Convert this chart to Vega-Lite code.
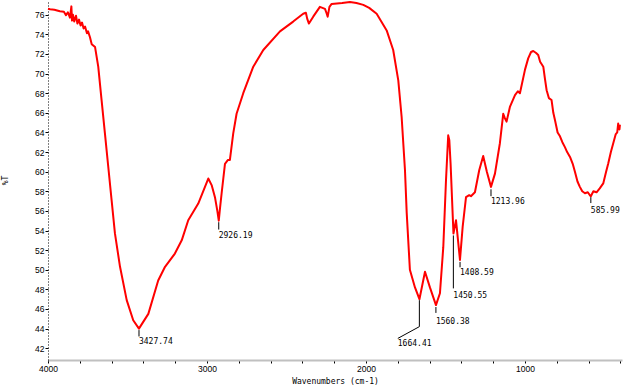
{
  "$schema": "https://vega.github.io/schema/vega-lite/v6.json",
  "width": 574,
  "height": 360,
  "autosize": "none",
  "padding": {"left": 48, "top": 0, "right": 7, "bottom": 28},
  "background": "white",
  "config": {
    "view": {"stroke": null},
    "axis": {"labelOverlap": false, "labelFlush": false, "grid": false, "labelColor": "black", "tickColor": "black", "titleColor": "black", "titleFontWeight": "normal"}
  },
  "datasets": {
    "spectrum": [
      {"wn": 4000, "T": 76.6}, {"wn": 3987, "T": 76.55}, {"wn": 3960, "T": 76.5}, {"wn": 3925, "T": 76.35},
      {"wn": 3900, "T": 76.3}, {"wn": 3887, "T": 75.95}, {"wn": 3875, "T": 76.25}, {"wn": 3862, "T": 75.7},
      {"wn": 3853, "T": 76.85}, {"wn": 3849, "T": 75.4}, {"wn": 3843, "T": 76.0}, {"wn": 3835, "T": 75.3},
      {"wn": 3824, "T": 75.9}, {"wn": 3815, "T": 75.1}, {"wn": 3805, "T": 75.5}, {"wn": 3795, "T": 74.9},
      {"wn": 3786, "T": 75.2}, {"wn": 3776, "T": 74.6}, {"wn": 3767, "T": 74.8}, {"wn": 3755, "T": 74.1},
      {"wn": 3748, "T": 74.3}, {"wn": 3736, "T": 73.7}, {"wn": 3725, "T": 73.0}, {"wn": 3704, "T": 72.7},
      {"wn": 3684, "T": 70.7}, {"wn": 3663, "T": 67.3}, {"wn": 3642, "T": 63.9}, {"wn": 3621, "T": 60.5},
      {"wn": 3600, "T": 57.1}, {"wn": 3579, "T": 53.7}, {"wn": 3547, "T": 50.3}, {"wn": 3505, "T": 46.9},
      {"wn": 3464, "T": 44.85}, {"wn": 3428, "T": 44.0}, {"wn": 3369, "T": 45.5}, {"wn": 3307, "T": 48.9},
      {"wn": 3264, "T": 50.3}, {"wn": 3202, "T": 51.65}, {"wn": 3159, "T": 53.0}, {"wn": 3118, "T": 55.05},
      {"wn": 3055, "T": 56.75}, {"wn": 2992, "T": 59.3}, {"wn": 2970, "T": 58.6}, {"wn": 2950, "T": 57.4},
      {"wn": 2935, "T": 56.0}, {"wn": 2926, "T": 55.0}, {"wn": 2918, "T": 56.3}, {"wn": 2908, "T": 57.8},
      {"wn": 2887, "T": 60.8}, {"wn": 2868, "T": 61.2}, {"wn": 2856, "T": 61.2}, {"wn": 2835, "T": 63.9},
      {"wn": 2814, "T": 65.9}, {"wn": 2772, "T": 68.0}, {"wn": 2709, "T": 70.7}, {"wn": 2646, "T": 72.4},
      {"wn": 2541, "T": 74.3}, {"wn": 2458, "T": 75.3}, {"wn": 2395, "T": 76.1}, {"wn": 2378, "T": 76.2},
      {"wn": 2370, "T": 75.6}, {"wn": 2359, "T": 75.1}, {"wn": 2332, "T": 75.8}, {"wn": 2290, "T": 76.8},
      {"wn": 2258, "T": 76.6}, {"wn": 2249, "T": 76.2}, {"wn": 2241, "T": 75.8}, {"wn": 2230, "T": 76.8},
      {"wn": 2216, "T": 77.1}, {"wn": 2150, "T": 77.2}, {"wn": 2101, "T": 77.3}, {"wn": 2060, "T": 77.2},
      {"wn": 2017, "T": 77.0}, {"wn": 1980, "T": 76.7}, {"wn": 1933, "T": 76.1}, {"wn": 1870, "T": 74.4},
      {"wn": 1829, "T": 72.4}, {"wn": 1797, "T": 69.3}, {"wn": 1776, "T": 65.6}, {"wn": 1755, "T": 60.2},
      {"wn": 1744, "T": 55.8}, {"wn": 1724, "T": 50.0}, {"wn": 1692, "T": 48.2}, {"wn": 1664, "T": 47.0},
      {"wn": 1629, "T": 49.8}, {"wn": 1598, "T": 48.2}, {"wn": 1560, "T": 46.4}, {"wn": 1535, "T": 47.6},
      {"wn": 1514, "T": 52.3}, {"wn": 1497, "T": 59.1}, {"wn": 1483, "T": 63.7}, {"wn": 1476, "T": 63.2},
      {"wn": 1468, "T": 60.8}, {"wn": 1450, "T": 53.7}, {"wn": 1434, "T": 55.05}, {"wn": 1409, "T": 51.0},
      {"wn": 1392, "T": 54.4}, {"wn": 1371, "T": 57.4}, {"wn": 1351, "T": 57.6}, {"wn": 1340, "T": 57.5},
      {"wn": 1315, "T": 57.9}, {"wn": 1288, "T": 60.15}, {"wn": 1263, "T": 61.6}, {"wn": 1240, "T": 60.0},
      {"wn": 1214, "T": 58.45}, {"wn": 1189, "T": 59.8}, {"wn": 1158, "T": 62.9}, {"wn": 1137, "T": 65.9},
      {"wn": 1128, "T": 65.5}, {"wn": 1116, "T": 65.1}, {"wn": 1095, "T": 66.6}, {"wn": 1063, "T": 67.8},
      {"wn": 1045, "T": 68.2}, {"wn": 1032, "T": 68.0}, {"wn": 1000, "T": 70.4}, {"wn": 980, "T": 71.55},
      {"wn": 962, "T": 72.2}, {"wn": 948, "T": 72.3}, {"wn": 930, "T": 72.1}, {"wn": 917, "T": 71.9},
      {"wn": 905, "T": 71.2}, {"wn": 885, "T": 70.7}, {"wn": 875, "T": 69.5}, {"wn": 864, "T": 68.3},
      {"wn": 850, "T": 67.5}, {"wn": 833, "T": 67.3}, {"wn": 822, "T": 66.0}, {"wn": 812, "T": 65.3},
      {"wn": 795, "T": 64.0}, {"wn": 780, "T": 63.6}, {"wn": 765, "T": 63.0}, {"wn": 749, "T": 62.5},
      {"wn": 735, "T": 62.0}, {"wn": 717, "T": 61.5}, {"wn": 700, "T": 60.8}, {"wn": 686, "T": 60.0},
      {"wn": 670, "T": 59.0}, {"wn": 655, "T": 58.45}, {"wn": 640, "T": 58.0}, {"wn": 623, "T": 57.8},
      {"wn": 605, "T": 57.9}, {"wn": 592, "T": 57.6}, {"wn": 586, "T": 57.5}, {"wn": 570, "T": 58.0},
      {"wn": 550, "T": 57.9}, {"wn": 530, "T": 58.3}, {"wn": 508, "T": 58.8}, {"wn": 490, "T": 60.0},
      {"wn": 477, "T": 60.8}, {"wn": 460, "T": 62.0}, {"wn": 445, "T": 62.9}, {"wn": 430, "T": 63.8},
      {"wn": 420, "T": 64.0}, {"wn": 414, "T": 64.9}, {"wn": 406, "T": 64.3}, {"wn": 403, "T": 64.8}
    ],
    "peaks": [
      {"label": "3427.74", "wn": 3427.74, "top": 43.85, "bottom": 43.2, "tx": 3427.74, "ty": 42.65},
      {"label": "2926.19", "wn": 2926.19, "top": 54.85, "bottom": 54.1, "tx": 2926.19, "ty": 53.4},
      {"label": "1664.41", "wn": 1664.41, "top": 46.9, "bottom": 44.2, "tx": 1800, "ty": 42.4},
      {"label": "1560.38", "wn": 1560.38, "top": 46.2, "bottom": 45.6, "tx": 1560.38, "ty": 44.64},
      {"label": "1450.55", "wn": 1450.55, "top": 53.5, "bottom": 48.1, "tx": 1450.55, "ty": 47.3},
      {"label": "1408.59", "wn": 1408.59, "top": 50.8, "bottom": 50.25, "tx": 1408.59, "ty": 49.64},
      {"label": "1213.96", "wn": 1213.96, "top": 58.2, "bottom": 57.5, "tx": 1213.96, "ty": 56.9},
      {"label": "585.99", "wn": 585.99, "top": 57.4, "bottom": 56.8, "tx": 585.99, "ty": 55.97}
    ],
    "leader": [
      {"x1": 1664.41, "y1": 44.2, "x2": 1800, "y2": 43.0}
    ]
  },
  "layer": [
    {
      "data": {"name": "spectrum"},
      "mark": {"type": "line", "color": "#ff0000", "strokeWidth": 2, "strokeJoin": "round"},
      "encoding": {
        "x": {
          "field": "wn", "type": "quantitative",
          "scale": {"domain": [4000, 390], "nice": false, "zero": false},
          "axis": {"title": "Wavenumbers (cm-1)", "values": [4000, 3800, 3600, 3400, 3200, 3000, 2800, 2600, 2400, 2200, 2000, 1800, 1600, 1400, 1200, 1000, 800, 600, 400], "format": "d", "labelExpr": "datum.value % 1000 == 0 ? datum.label : ''", "domainColor": "#c0c0c0", "domainWidth": 2, "tickSize": 3, "labelFont": "Liberation Sans", "labelFontSize": 8.5, "labelPadding": 1, "labelOverlap": false, "labelFlush": false, "titleFont": "DejaVu Sans Mono", "titleFontSize": 8, "titleY": 17}
        },
        "y": {
          "field": "T", "type": "quantitative",
          "scale": {"domain": [40.8, 77.5], "nice": false, "zero": false},
          "axis": {"title": "%T", "values": [42, 44, 46, 48, 50, 52, 54, 56, 58, 60, 62, 64, 66, 68, 70, 72, 74, 76], "domainColor": "black", "domainDash": [1, 2], "domainWidth": 1, "tickSize": 3, "labelFont": "Liberation Sans", "labelFontSize": 8.5, "labelPadding": 1, "labelOverlap": false, "labelFlush": false, "titleFont": "DejaVu Sans Mono", "titleFontSize": 8, "titleX": -39, "titleY": 180, "titleAngle": -90}
        }
      }
    },
    {
      "mark": {"type": "rule", "color": "#d4d4d4", "strokeWidth": 1},
      "encoding": {
        "x": {"datum": 390, "type": "quantitative",
          "axis": {"title": "Wavenumbers (cm-1)", "values": [4000, 3800, 3600, 3400, 3200, 3000, 2800, 2600, 2400, 2200, 2000, 1800, 1600, 1400, 1200, 1000, 800, 600, 400], "format": "d", "labelExpr": "datum.value % 1000 == 0 ? datum.label : ''", "domainColor": "#c0c0c0", "domainWidth": 2, "tickSize": 3, "labelFont": "Liberation Sans", "labelFontSize": 8.5, "labelPadding": 1, "labelOverlap": false, "labelFlush": false, "titleFont": "DejaVu Sans Mono", "titleFontSize": 8, "titleY": 17}
        }
      }
    },
    {
      "data": {"name": "peaks"},
      "mark": {"type": "rule", "color": "black", "strokeWidth": 1},
      "encoding": {
        "x": {"field": "wn", "type": "quantitative",
          "axis": {"title": "Wavenumbers (cm-1)", "values": [4000, 3800, 3600, 3400, 3200, 3000, 2800, 2600, 2400, 2200, 2000, 1800, 1600, 1400, 1200, 1000, 800, 600, 400], "format": "d", "labelExpr": "datum.value % 1000 == 0 ? datum.label : ''", "domainColor": "#c0c0c0", "domainWidth": 2, "tickSize": 3, "labelFont": "Liberation Sans", "labelFontSize": 8.5, "labelPadding": 1, "labelOverlap": false, "labelFlush": false, "titleFont": "DejaVu Sans Mono", "titleFontSize": 8, "titleY": 17}
        },
        "y": {"field": "top", "type": "quantitative",
          "axis": {"title": "%T", "values": [42, 44, 46, 48, 50, 52, 54, 56, 58, 60, 62, 64, 66, 68, 70, 72, 74, 76], "domainColor": "black", "domainDash": [1, 2], "domainWidth": 1, "tickSize": 3, "labelFont": "Liberation Sans", "labelFontSize": 8.5, "labelPadding": 1, "labelOverlap": false, "labelFlush": false, "titleFont": "DejaVu Sans Mono", "titleFontSize": 8, "titleX": -39, "titleY": 180, "titleAngle": -90}
        },
        "y2": {"field": "bottom"}
      }
    },
    {
      "data": {"name": "leader"},
      "mark": {"type": "rule", "color": "black", "strokeWidth": 1},
      "encoding": {
        "x": {"field": "x1", "type": "quantitative",
          "axis": {"title": "Wavenumbers (cm-1)", "values": [4000, 3800, 3600, 3400, 3200, 3000, 2800, 2600, 2400, 2200, 2000, 1800, 1600, 1400, 1200, 1000, 800, 600, 400], "format": "d", "labelExpr": "datum.value % 1000 == 0 ? datum.label : ''", "domainColor": "#c0c0c0", "domainWidth": 2, "tickSize": 3, "labelFont": "Liberation Sans", "labelFontSize": 8.5, "labelPadding": 1, "labelOverlap": false, "labelFlush": false, "titleFont": "DejaVu Sans Mono", "titleFontSize": 8, "titleY": 17}
        },
        "x2": {"field": "x2"},
        "y": {"field": "y1", "type": "quantitative",
          "axis": {"title": "%T", "values": [42, 44, 46, 48, 50, 52, 54, 56, 58, 60, 62, 64, 66, 68, 70, 72, 74, 76], "domainColor": "black", "domainDash": [1, 2], "domainWidth": 1, "tickSize": 3, "labelFont": "Liberation Sans", "labelFontSize": 8.5, "labelPadding": 1, "labelOverlap": false, "labelFlush": false, "titleFont": "DejaVu Sans Mono", "titleFontSize": 8, "titleX": -39, "titleY": 180, "titleAngle": -90}
        },
        "y2": {"field": "y2"}
      }
    },
    {
      "data": {"name": "peaks"},
      "mark": {"type": "text", "align": "left", "baseline": "middle", "font": "DejaVu Sans Mono", "fontSize": 8, "color": "black"},
      "encoding": {
        "x": {"field": "tx", "type": "quantitative",
          "axis": {"title": "Wavenumbers (cm-1)", "values": [4000, 3800, 3600, 3400, 3200, 3000, 2800, 2600, 2400, 2200, 2000, 1800, 1600, 1400, 1200, 1000, 800, 600, 400], "format": "d", "labelExpr": "datum.value % 1000 == 0 ? datum.label : ''", "domainColor": "#c0c0c0", "domainWidth": 2, "tickSize": 3, "labelFont": "Liberation Sans", "labelFontSize": 8.5, "labelPadding": 1, "labelOverlap": false, "labelFlush": false, "titleFont": "DejaVu Sans Mono", "titleFontSize": 8, "titleY": 17}
        },
        "y": {"field": "ty", "type": "quantitative",
          "axis": {"title": "%T", "values": [42, 44, 46, 48, 50, 52, 54, 56, 58, 60, 62, 64, 66, 68, 70, 72, 74, 76], "domainColor": "black", "domainDash": [1, 2], "domainWidth": 1, "tickSize": 3, "labelFont": "Liberation Sans", "labelFontSize": 8.5, "labelPadding": 1, "labelOverlap": false, "labelFlush": false, "titleFont": "DejaVu Sans Mono", "titleFontSize": 8, "titleX": -39, "titleY": 180, "titleAngle": -90}
        },
        "text": {"field": "label"}
      }
    }
  ]
}
